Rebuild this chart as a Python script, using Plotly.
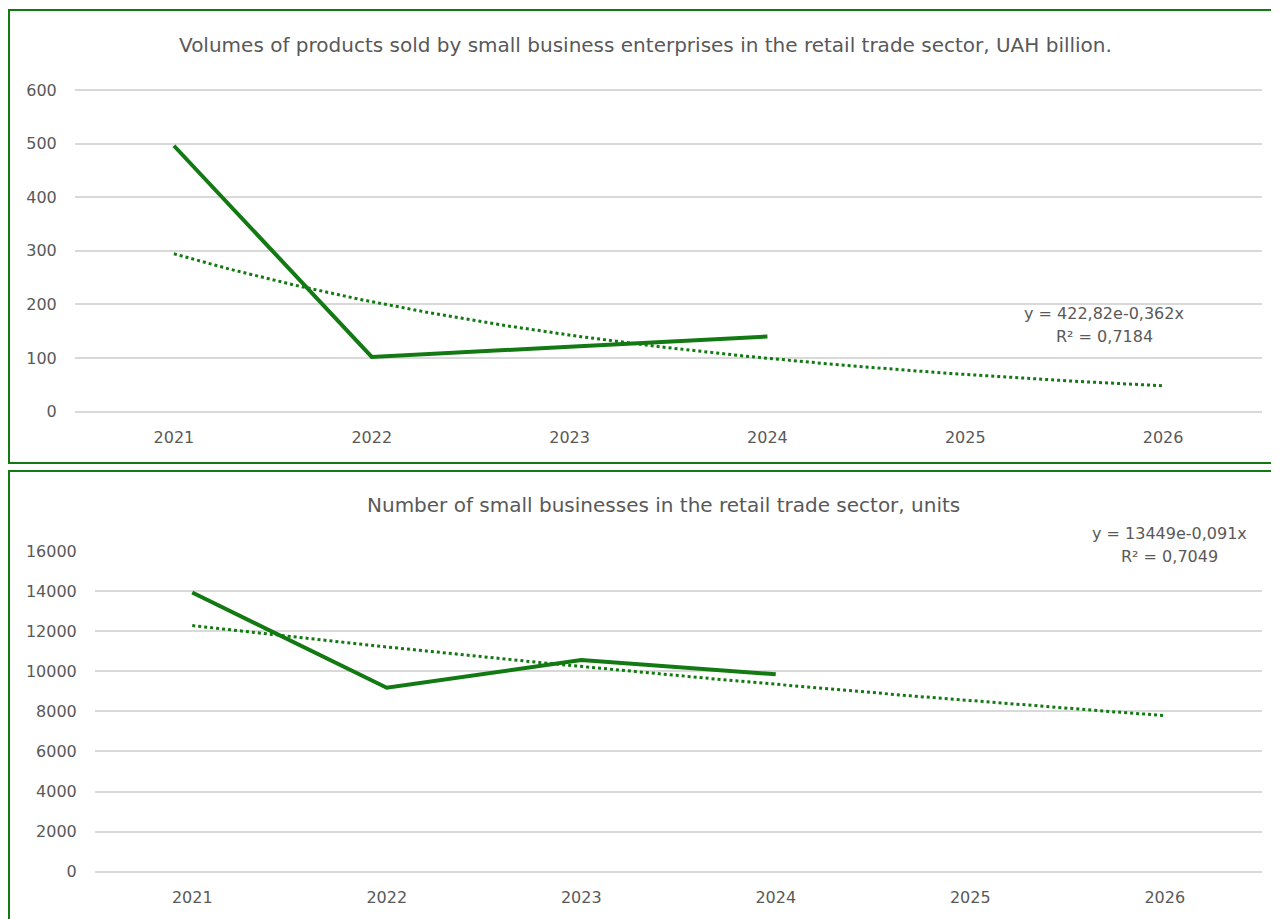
import numpy as np
import plotly.graph_objects as go

# ---- data ----
years = ["2021", "2022", "2023", "2024", "2025", "2026"]
volumes = [496, 102, 121, 140]            # UAH billion
businesses = [13930, 9180, 10560, 9850]   # units

# trendline coefficients as shown on the chart
vol_a, vol_b = 422.82, -0.362
bus_a, bus_b = 13449, -0.091
vol_eq = "y = 422,82e-0,362x"
vol_r2 = "R² = 0,7184"
bus_eq = "y = 13449e-0,091x"
bus_r2 = "R² = 0,7049"

title_top = "Volumes of products sold by small business enterprises in the retail trade sector, UAH billion."
title_bot = "Number of small businesses in the retail trade sector, units"

W, H = 1279, 919
OFF = 8  # page body margin
GREEN = "#137a13"
TXT = "#595959"
GRID = "#d9d9d9"
FONT = "DejaVu Sans"

def px(x):
    return (x - OFF) / W

def py(y):
    return 1 - (y - OFF) / H

xs = np.arange(1, len(volumes) + 1)
xt = np.linspace(1, len(years), 200)

fig = go.Figure()
fig.add_trace(go.Scatter(x=xs, y=volumes, mode="lines", line=dict(color=GREEN, width=4),
                         xaxis="x", yaxis="y", showlegend=False))
fig.add_trace(go.Scatter(x=xt, y=vol_a * np.exp(vol_b * xt), mode="lines",
                         line=dict(color=GREEN, width=3, dash="dot"),
                         xaxis="x", yaxis="y", showlegend=False))
fig.add_trace(go.Scatter(x=xs, y=businesses, mode="lines", line=dict(color=GREEN, width=4),
                         xaxis="x2", yaxis="y2", showlegend=False))
fig.add_trace(go.Scatter(x=xt, y=bus_a * np.exp(bus_b * xt), mode="lines",
                         line=dict(color=GREEN, width=3, dash="dot"),
                         xaxis="x2", yaxis="y2", showlegend=False))

tickfont = dict(family=FONT, size=16, color=TXT)
xcommon = dict(range=[0.5, 6.5], tickvals=list(range(1, 7)), ticktext=years,
               showgrid=False, zeroline=False, showline=False, ticks="outside",
               ticklen=11, tickcolor="rgba(0,0,0,0)", tickfont=tickfont,
               fixedrange=True, automargin=False)
ycommon = dict(showgrid=True, gridcolor=GRID, gridwidth=1.5, zeroline=True,
               zerolinecolor=GRID, zerolinewidth=1.5, ticks="outside", ticklen=14,
               tickcolor="rgba(0,0,0,0)", tickfont=tickfont, fixedrange=True,
               automargin=False, tickformat="d")

# extend ranges a hair so the top gridline is drawn
top_pad1 = 2
top_pad2 = 50
y0_1, y600 = 411.6, 90.0
u1 = (y0_1 - y600) / 600
y0_2, y16k = 871.7, 551.0
u2 = (y0_2 - y16k) / 16000

fig.update_layout(
    template="none",
    width=W, height=H,
    margin=dict(l=0, r=0, t=0, b=0),
    paper_bgcolor="white", plot_bgcolor="white",
    showlegend=False,
    xaxis=dict(domain=[px(75), px(1262)], anchor="y", **xcommon),
    yaxis=dict(domain=[py(y0_1), py(y600 - top_pad1 * u1)], range=[0, 600 + top_pad1],
               tickvals=[0, 100, 200, 300, 400, 500, 600], anchor="x", **ycommon),
    xaxis2=dict(domain=[px(95), px(1262)], anchor="y2", **xcommon),
    yaxis2=dict(domain=[py(y0_2), py(y16k - top_pad2 * u2)], range=[0, 16000 + top_pad2],
                tickvals=list(range(0, 16001, 2000)), anchor="x2", **ycommon),
)

# panel borders
fig.add_shape(type="rect", xref="paper", yref="paper", x0=px(9), x1=px(1277),
              y0=py(463), y1=py(10), line=dict(color=GREEN, width=2), layer="below")
fig.add_shape(type="rect", xref="paper", yref="paper", x0=px(9), x1=px(1277),
              y0=py(935), y1=py(471), line=dict(color=GREEN, width=2), layer="below")

tfont = dict(family=FONT, size=20, color=TXT)
afont = dict(family=FONT, size=16, color=TXT)
annots = [
    (645, 45, title_top, tfont),
    (663, 505, title_bot, tfont),
    (1104, 313, vol_eq, afont),
    (1104, 336, vol_r2, afont),
    (1169, 533, bus_eq, afont),
    (1169, 556, bus_r2, afont),
]
for x, y, t, f in annots:
    fig.add_annotation(x=px(x), y=py(y), xref="paper", yref="paper", text=t,
                       showarrow=False, font=f, xanchor="center", yanchor="middle")

fig.write_html("out.html")
